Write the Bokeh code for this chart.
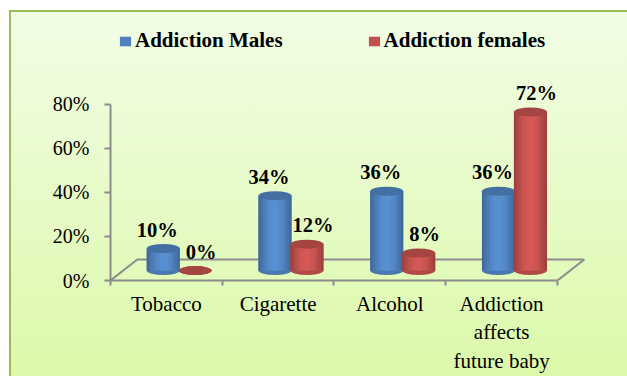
import math
from bokeh.plotting import figure
from bokeh.models import Range1d, FixedTicker, PrintfTickFormatter, Legend, LegendItem
from bokeh.core.properties import value
from bokeh.embed import file_html
from bokeh.resources import INLINE

# ---- data ----
categories = ["Tobacco", "Cigarette", "Alcohol", "Addiction\naffects\nfuture baby"]
series_names = ["Addiction Males", "Addiction females"]
males = [10, 34, 36, 36]
females = [0, 12, 8, 72]
y_ticks = [0, 20, 40, 60, 80]

# ---- style ----
BLUE = "#4f81bd"
RED = "#c0504d"
FONT = "Liberation Serif"
AXIS_GRAY = "#8c8c8c"
DEPTH_X, DEPTH_Y = 0.24, 9.5      # floor depth (3-D look)
MID_X, MID_Y = 0.115, 4.5         # where cylinders stand on the floor
BAR_W = 0.295
PAIR = 0.143


def shade(hx, f):
    r, g, b = int(hx[1:3], 16), int(hx[3:5], 16), int(hx[5:7], 16)
    c = [max(0, min(255, int(round(v * f)))) for v in (r, g, b)]
    return "#%02x%02x%02x" % tuple(c)


p = figure(width=627, height=376, output_backend="svg", toolbar_location=None,
           x_range=Range1d(0, 4.385), y_range=Range1d(0, 118),
           min_border_left=110, min_border_right=27, min_border_top=20, min_border_bottom=95)
p.border_fill_color = None
p.background_fill_color = None
p.outline_line_color = None
p.xgrid.visible = False
p.ygrid.visible = False
p.styles = {
    "background": ("linear-gradient(#f2fde6, #dbf9a8) 11px 12px / 100% 100% no-repeat, "
                   "linear-gradient(#9bbb59, #9bbb59) 9px 10px / 100% 100% no-repeat, #ffffff"),
}

# floor
p.line(x=[0, DEPTH_X, 4 + DEPTH_X, 4], y=[0, DEPTH_Y, DEPTH_Y, 0],
       line_color=AXIS_GRAY, line_width=2)

centers = [i + 0.5 for i in range(len(categories))]


def cylinders(xs, vals, base):
    p.ellipse(x=xs, y=[MID_Y] * len(xs), width=BAR_W, height=9, height_units="screen",
              fill_color=shade(base, 0.92), line_color=None)
    body = p.vbar(x=xs, bottom=MID_Y, top=[v + MID_Y for v in vals], width=BAR_W,
                  fill_color=base, line_color=None)
    n = 14
    sw = BAR_W / n
    for i in range(n):
        f = 0.78 + 0.34 * math.sin(math.pi * (i + 0.5) / n)
        p.vbar(x=[x + (i + 0.5 - n / 2) * sw for x in xs], bottom=MID_Y,
               top=[v + MID_Y for v in vals], width=sw * 1.05,
               fill_color=shade(base, f), line_color=None)
    p.ellipse(x=xs, y=[v + MID_Y for v in vals], width=BAR_W, height=9, height_units="screen",
              fill_color=shade(base, 0.86), line_color=None)
    return body


bx = [c + MID_X - PAIR for c in centers]
rx = [c + MID_X + PAIR for c in centers]
rb = cylinders(bx, males, BLUE)
rr = cylinders(rx, females, RED)

lab_kw = dict(text_align="center", text_baseline="alphabetic", text_font=value(FONT),
              text_font_style="bold", text_font_size="20.5px", text_color="black", y_offset=-19)
p.text(x=bx, y=[v + MID_Y for v in males], text=[f"{v}%" for v in males], x_offset=-6, **lab_kw)
p.text(x=rx, y=[v + MID_Y for v in females], text=[f"{v}%" for v in females], x_offset=6, **lab_kw)

# legend
legend = Legend(items=[LegendItem(label=series_names[0], renderers=[rb], index=0),
                       LegendItem(label=series_names[1], renderers=[rr], index=0)],
                orientation="horizontal", location="top_left", margin=8, padding=0,
                spacing=84, glyph_width=14, glyph_height=12, label_standoff=3,
                label_text_font=FONT, label_text_font_style="bold", label_text_font_size="21px",
                label_text_color="black", border_line_color=None, background_fill_alpha=0)
p.add_layout(legend)

# axes
ya = p.yaxis[0]
ya.ticker = FixedTicker(ticks=y_ticks)
ya.formatter = PrintfTickFormatter(format="%d%%")
ya.bounds = (0, 80)
ya.axis_line_color = AXIS_GRAY
ya.axis_line_width = 2
ya.major_tick_line_color = AXIS_GRAY
ya.major_tick_line_width = 2
ya.major_tick_out = 6
ya.major_tick_in = 0
ya.minor_tick_line_color = None
ya.major_label_text_font = FONT
ya.major_label_text_font_size = "20px"
ya.major_label_text_color = "black"
ya.major_label_standoff = 15

xa = p.xaxis[0]
xa.ticker = FixedTicker(ticks=centers, minor_ticks=list(range(len(categories) + 1)))
xa.major_label_overrides = {c: name for c, name in zip(centers, categories)}
xa.bounds = (0, 4)
xa.axis_line_color = AXIS_GRAY
xa.axis_line_width = 2
xa.major_tick_line_color = None
xa.major_tick_out = 0
xa.major_tick_in = 0
xa.minor_tick_line_color = AXIS_GRAY
xa.minor_tick_line_width = 2
xa.minor_tick_out = 5
xa.minor_tick_in = 0
xa.major_label_text_font = FONT
xa.major_label_text_font_size = "21px"
xa.major_label_text_color = "black"
xa.major_label_standoff = 6

open("out.html", "w").write(file_html(p, INLINE))
